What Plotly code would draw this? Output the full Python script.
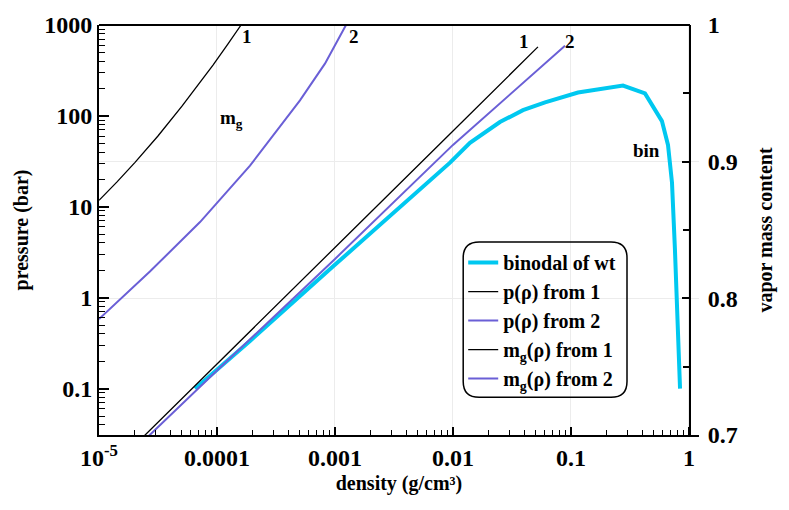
import plotly.graph_objects as go

# ---------------- data ----------------
# binodal of water (density g/cm3, pressure bar)
bin_rho = [6.52e-5, 1.905e-4, 9.6e-4, 3.56e-3, 9.44e-3, 0.01393, 0.025, 0.0392, 0.0603, 0.1147,
           0.276, 0.424, 0.590, 0.664, 0.718, 0.760, 0.807, 0.84]
bin_p = [0.1, 0.335, 2.2, 9.9, 30.6, 50.6, 85.6, 115.6, 141, 181,
         216, 177, 87.7, 48, 18.5, 3.45, 0.43, 0.1]

# p(rho) from model 1 and 2
p1_rho = [2.2e-5, 1e-4, 1e-3, 1e-2, 0.0525]
p1_p = [0.0268, 0.188, 3.57, 68.2, 575]
p2_rho = [2.4e-5, 1e-4, 1e-3, 1e-2, 0.089]
p2_p = [0.0268, 0.158, 2.67, 48, 590]

# vapor mass content m_g(rho) from model 1 and 2
mg1_rho = [1e-5, 1.422e-5, 2.02e-5, 3.16e-5, 5.05e-5, 6.9e-5, 9.25e-5, 1.24e-4, 1.6e-4]
mg1_v = [0.8717, 0.8852, 0.8995, 0.9188, 0.9406, 0.9558, 0.9707, 0.9862, 1.0]
mg2_rho = [1e-5, 2.70e-5, 7.18e-5, 1.905e-4, 5.05e-4, 8.22e-4, 1.24e-3]
mg2_v = [0.7848, 0.8196, 0.8558, 0.8971, 0.9449, 0.9717, 1.0]

x_major = [1e-5, 1e-4, 1e-3, 1e-2, 1e-1, 1]
x_labels = ["10<sup>-5</sup>", "0.0001", "0.001", "0.01", "0.1", "1"]
y_major = [0.1, 1, 10, 100, 1000]
y_labels = ["0.1", "1", "10", "100", "1000"]
y2_major = [0.7, 0.8, 0.9, 1.0]
y2_labels = ["0.7", "0.8", "0.9", "1"]
y2_minor = [0.75, 0.85, 0.95]

CYAN = "#00c8f0"
BLUE = "#6a5fd6"
FONT = "Liberation Serif"

x_minor = [m * 10.0 ** e for e in range(-5, 1) for m in range(2, 10)]
y_minor = [m * 10.0 ** e for e in range(-2, 3) for m in range(2, 10)]
XR = [-5, 0.085]
YR = [-1.51, 3]

fig = go.Figure()
fig.add_trace(go.Scatter(x=bin_rho, y=bin_p, mode="lines", name="binodal of wt",
                         line=dict(color=CYAN, width=4)))
fig.add_trace(go.Scatter(x=p1_rho, y=p1_p, mode="lines", name="p(ρ) from 1",
                         line=dict(color="black", width=1.3)))
fig.add_trace(go.Scatter(x=p2_rho, y=p2_p, mode="lines", name="p(ρ) from 2",
                         line=dict(color=BLUE, width=2)))
fig.add_trace(go.Scatter(x=mg1_rho, y=mg1_v, mode="lines", name="m<sub>g</sub>(ρ) from 1",
                         line=dict(color="black", width=1.3), yaxis="y2"))
fig.add_trace(go.Scatter(x=mg2_rho, y=mg2_v, mode="lines", name="m<sub>g</sub>(ρ) from 2",
                         line=dict(color=BLUE, width=2), yaxis="y2"))
# empty helper traces so that the minor-tick axes get drawn
fig.add_trace(go.Scatter(x=[None], y=[None], xaxis="x2", yaxis="y3", mode="lines",
                         showlegend=False, hoverinfo="skip"))
fig.add_trace(go.Scatter(x=[None], y=[None], xaxis="x", yaxis="y4", mode="lines",
                         showlegend=False, hoverinfo="skip"))

tickfont = dict(family=FONT, size=24, color="black", weight="bold")
titlefont = dict(family=FONT, size=20, color="black", weight="bold")

fig.update_layout(
    width=789, height=510,
    margin=dict(l=99, r=90, t=21, b=75),
    plot_bgcolor="white", paper_bgcolor="white",
    showlegend=True,
    legend=dict(x=0.607, y=0.468, xanchor="left", yanchor="top",
                bgcolor="rgba(0,0,0,0)", borderwidth=0,
                font=dict(family=FONT, size=20, color="black", weight="bold"),
                itemwidth=30, tracegroupgap=0),
    xaxis=dict(type="log", range=XR, showline=True, linecolor="black", linewidth=2,
               tickvals=x_major, ticktext=x_labels, ticks="inside", ticklen=8, tickwidth=1.5,
               tickcolor="black", tickfont=tickfont, showgrid=True, gridcolor="#ececec",
               zeroline=False,
               title=dict(text="density (g/cm³)", font=titlefont, standoff=6)),
    # minor ticks of the density axis
    xaxis2=dict(type="log", range=XR, overlaying="x", anchor="y", side="bottom",
                tickvals=x_minor, ticktext=[""] * len(x_minor), ticks="inside", ticklen=5,
                tickwidth=1.2, tickcolor="black", showline=False, showgrid=False,
                zeroline=False),
    yaxis=dict(type="log", range=YR, showline=True, linecolor="black", linewidth=2,
               tickvals=y_major, ticktext=y_labels, ticks="inside", ticklen=10, tickwidth=1.5,
               tickcolor="black", tickfont=tickfont, showgrid=False, zeroline=False,
               title=dict(text="pressure (bar)", font=titlefont, standoff=10)),
    # minor ticks of the pressure axis
    yaxis3=dict(type="log", range=YR, overlaying="y", anchor="x", side="left",
                tickvals=y_minor, ticktext=[""] * len(y_minor), ticks="inside", ticklen=6,
                tickwidth=1.2, tickcolor="black", showline=False, showgrid=False,
                zeroline=False),
    yaxis2=dict(overlaying="y", side="right", anchor="free", position=0.985,
                range=[0.7, 1.0], showline=True, linecolor="black", linewidth=2,
                tickvals=y2_major, ticktext=y2_labels, ticks="inside", ticklen=7, tickwidth=1.5,
                tickcolor="black", tickfont=tickfont, showgrid=True, gridcolor="#ececec",
                zeroline=False, ticklabelstandoff=12,
                title=dict(text="vapor mass content", font=titlefont, standoff=20)),
    yaxis4=dict(overlaying="y", side="right", anchor="free", position=0.985,
                range=[0.7, 1.0], tickvals=y2_minor, ticktext=[""] * len(y2_minor),
                ticks="inside", ticklen=7, tickwidth=1.5, tickcolor="black",
                showline=False, showgrid=False, zeroline=False),
)

# top frame line up to the right axis
fig.add_shape(type="line", xref="paper", yref="paper", x0=0, x1=0.985, y0=1, y1=1,
              line=dict(color="black", width=2))

# rounded legend frame
x0, x1, y0, y1 = 0.607, 0.880, 0.092, 0.471
rx, ry = 16 / 600, 16 / 414
path = (f"M {x0+rx},{y1} L {x1-rx},{y1} Q {x1},{y1} {x1},{y1-ry} "
        f"L {x1},{y0+ry} Q {x1},{y0} {x1-rx},{y0} L {x0+rx},{y0} Q {x0},{y0} {x0},{y0+ry} "
        f"L {x0},{y1-ry} Q {x0},{y1} {x0+rx},{y1} Z")
fig.add_shape(type="path", xref="paper", yref="paper", path=path,
              line=dict(color="black", width=1.5), fillcolor="rgba(0,0,0,0)")

annfont = dict(family=FONT, size=19, color="black", weight="bold")
for txt, ax, ay in [("1", -3.746, 2.869), ("2", -2.839, 2.869), ("1", -1.398, 2.815),
                    ("2", -1.008, 2.815), ("m<sub>g</sub>", -3.873, 1.965), ("bin", -0.356, 1.617)]:
    fig.add_annotation(x=ax, y=ay, xref="x", yref="y", text=txt, showarrow=False, font=annfont)

fig.write_html("out.html")
